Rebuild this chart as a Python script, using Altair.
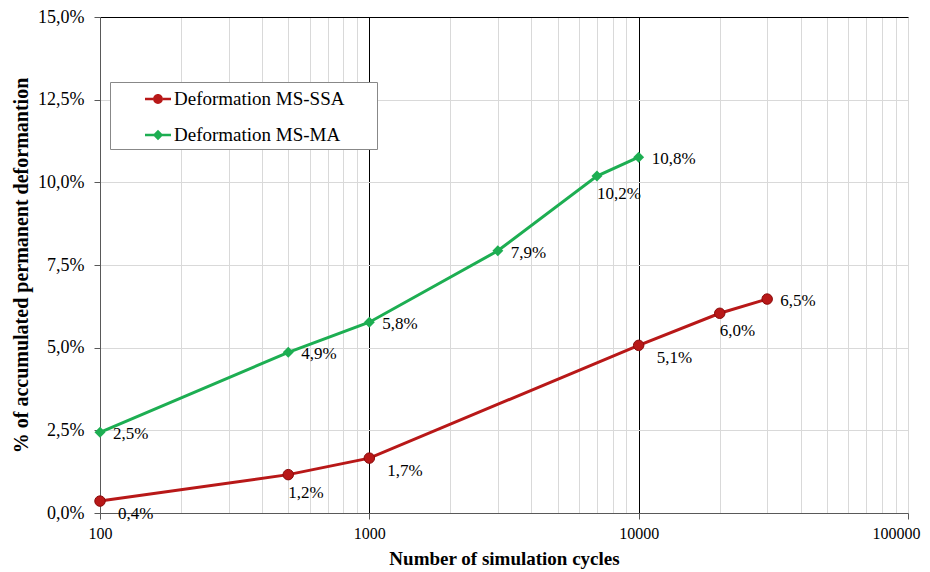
import altair as alt
import pandas as pd

series_names = ["Deformation MS-SSA", "Deformation MS-MA"]
series_colors = ["#B81818", "#1DAE52"]

ssa_cycles = [100, 500, 1000, 10000, 20000, 30000]
ssa_values = [0.36, 1.16, 1.66, 5.07, 6.04, 6.47]
ssa_labels = ["0,4%", "1,2%", "1,7%", "5,1%", "6,0%", "6,5%"]
ssa_label_pos = ["br", "b", "br", "br", "b", "r"]

ma_cycles = [100, 500, 1000, 3000, 7000, 10000]
ma_values = [2.44, 4.86, 5.77, 7.93, 10.19, 10.76]
ma_labels = ["2,5%", "4,9%", "5,8%", "7,9%", "10,2%", "10,8%"]
ma_label_pos = ["r", "r", "r", "r", "b", "r"]

x_major = [100, 1000, 10000, 100000]
x_grid = [m * d for d in [100, 1000, 10000] for m in range(1, 10)] + [100000]
y_ticks = [0, 2.5, 5, 7.5, 10, 12.5, 15]

FONT = "Liberation Serif"

rows = []
for s, cyc, val, lab, pos in [
    (series_names[0], ssa_cycles, ssa_values, ssa_labels, ssa_label_pos),
    (series_names[1], ma_cycles, ma_values, ma_labels, ma_label_pos),
]:
    for c, v, l, p in zip(cyc, val, lab, pos):
        rows.append({"series": s, "cycles": c, "value": v, "label": l, "pos": p})
df = pd.DataFrame(rows)

# legend scale (series order as in legend)
color_scale = alt.Scale(domain=series_names, range=series_colors)
# mark scales (same mapping, listed in the other order so they stay separate from the legend)
mark_scale = alt.Scale(domain=series_names[::-1], range=series_colors[::-1])

major_test = "datum.value == 100 || datum.value == 1000 || datum.value == 10000 || datum.value == 100000"

x_enc = alt.X(
    "cycles:Q",
    scale=alt.Scale(type="log", domain=[100, 100000], nice=False),
    axis=alt.Axis(
        values=x_grid,
        grid=True,
        gridColor={"condition": {"test": "datum.value == 1000 || datum.value == 10000", "value": "#000000"}, "value": "#D9D9D9"},
        gridWidth=1,
        tickOpacity={"condition": {"test": major_test, "value": 1}, "value": 0},
        tickColor="#595959",
        tickSize=6,
        labelExpr="(" + major_test + ") ? format(datum.value, 'd') : ''",
        labelAlign={"condition": {"test": "datum.value == 100000", "value": "right"}, "value": "center"},
        labelOffset={"condition": {"test": "datum.value == 100000", "value": 12}, "value": 0},
        labelFont=FONT,
        labelFontSize=16,
        labelColor="#000000",
        labelPadding=6,
        labelOverlap=False,
        labelFlush=False,
        domainColor="#595959",
        title="Number of simulation cycles",
        titleFont=FONT,
        titleFontSize=19,
        titleFontWeight="bold",
        titleColor="#000000",
        titlePadding=8,
    ),
)

y_enc = alt.Y(
    "value:Q",
    scale=alt.Scale(domain=[0, 15], nice=False),
    axis=alt.Axis(
        values=y_ticks,
        grid=True,
        gridColor={"condition": {"test": "datum.value == 15", "value": "#000000"}, "value": "#D9D9D9"},
        gridWidth=1,
        tickColor="#595959",
        tickSize=6,
        labelExpr="replace(format(datum.value, '.1f'), '.', ',') + '%'",
        labelFont=FONT,
        labelFontSize=18,
        labelColor="#000000",
        labelPadding=10,
        domainColor="#595959",
        title="% of accumulated permanent deformantion",
        titleFont=FONT,
        titleFontSize=20,
        titleFontWeight="bold",
        titleColor="#000000",
        titlePadding=6,
    ),
)

base = alt.Chart(df)

lines = base.mark_line(strokeWidth=3).encode(
    x=x_enc, y=y_enc, stroke=alt.Stroke("series:N", scale=mark_scale, legend=None)
)

pts_ssa = base.transform_filter(alt.datum.series == series_names[0]).mark_point(
    shape="circle", filled=True, size=110, opacity=1, stroke="#8A0A0A", strokeWidth=1
).encode(x=x_enc, y=y_enc, fill=alt.Fill("series:N", scale=mark_scale, legend=None))

pts_ma = base.transform_filter(alt.datum.series == series_names[1]).mark_point(
    shape="diamond", filled=True, size=120, opacity=1
).encode(x=x_enc, y=y_enc, fill=alt.Fill("series:N", scale=mark_scale, legend=None))

def label_layer(pos, dx, dy):
    return base.transform_filter(alt.datum.pos == pos).mark_text(
        align="left", baseline="middle", dx=dx, dy=dy, font=FONT, fontSize=17, color="#000000"
    ).encode(x=x_enc, y=y_enc, text="label:N")

labels = [label_layer("r", 13, 2), label_layer("br", 18, 13), label_layer("b", 0, 18)]

circle_path = ("M-1,-0.09L-0.38,-0.09L-0.38,0.09L-1,0.09Z"
               "M0.38,-0.09L1,-0.09L1,0.09L0.38,0.09Z"
               "M-0.38,0A0.38,0.38 0 1,1 0.38,0A0.38,0.38 0 1,1 -0.38,0Z")
diamond_path = ("M-1,-0.09L-0.3,-0.09L-0.3,0.09L-1,0.09Z"
                "M0.3,-0.09L1,-0.09L1,0.09L0.3,0.09Z"
                "M0,-0.4L0.4,0L0,0.4L-0.4,0Z")

blank_pad = "\u2800" * 2
legend_props = dict(
    orient="none",
    legendX=10,
    legendY=65,
    title=None,
    padding=4,
    strokeColor="#888888",
    fillColor="#FFFFFF",
    symbolSize=676,
    symbolOffset=31,
    symbolStrokeWidth=0,
    labelOffset=3,
    rowPadding=13,
    labelFont=FONT,
    labelFontSize=19,
    labelColor="#000000",
    labelLimit=400,
    labelExpr="datum.label + '" + blank_pad + "'",
)

legend_helper = base.transform_filter("datum.value < 0").mark_point(filled=True, opacity=1).encode(
    color=alt.Color("series:N", scale=color_scale, legend=alt.Legend(**legend_props)),
    shape=alt.Shape("series:N", scale=alt.Scale(domain=series_names, range=[circle_path, diamond_path]),
                    legend=alt.Legend(**legend_props)),
)

chart = alt.layer(lines, pts_ssa, pts_ma, *labels, legend_helper).properties(
    width=808,
    height=496,
    autosize=alt.AutoSizeParams(type="none"),
    padding={"left": 92, "top": 9, "right": 14, "bottom": 59},
).configure_view(stroke=None).configure(background="#FFFFFF")

chart.save("out.html", embed_options={"renderer": "svg", "actions": False})
